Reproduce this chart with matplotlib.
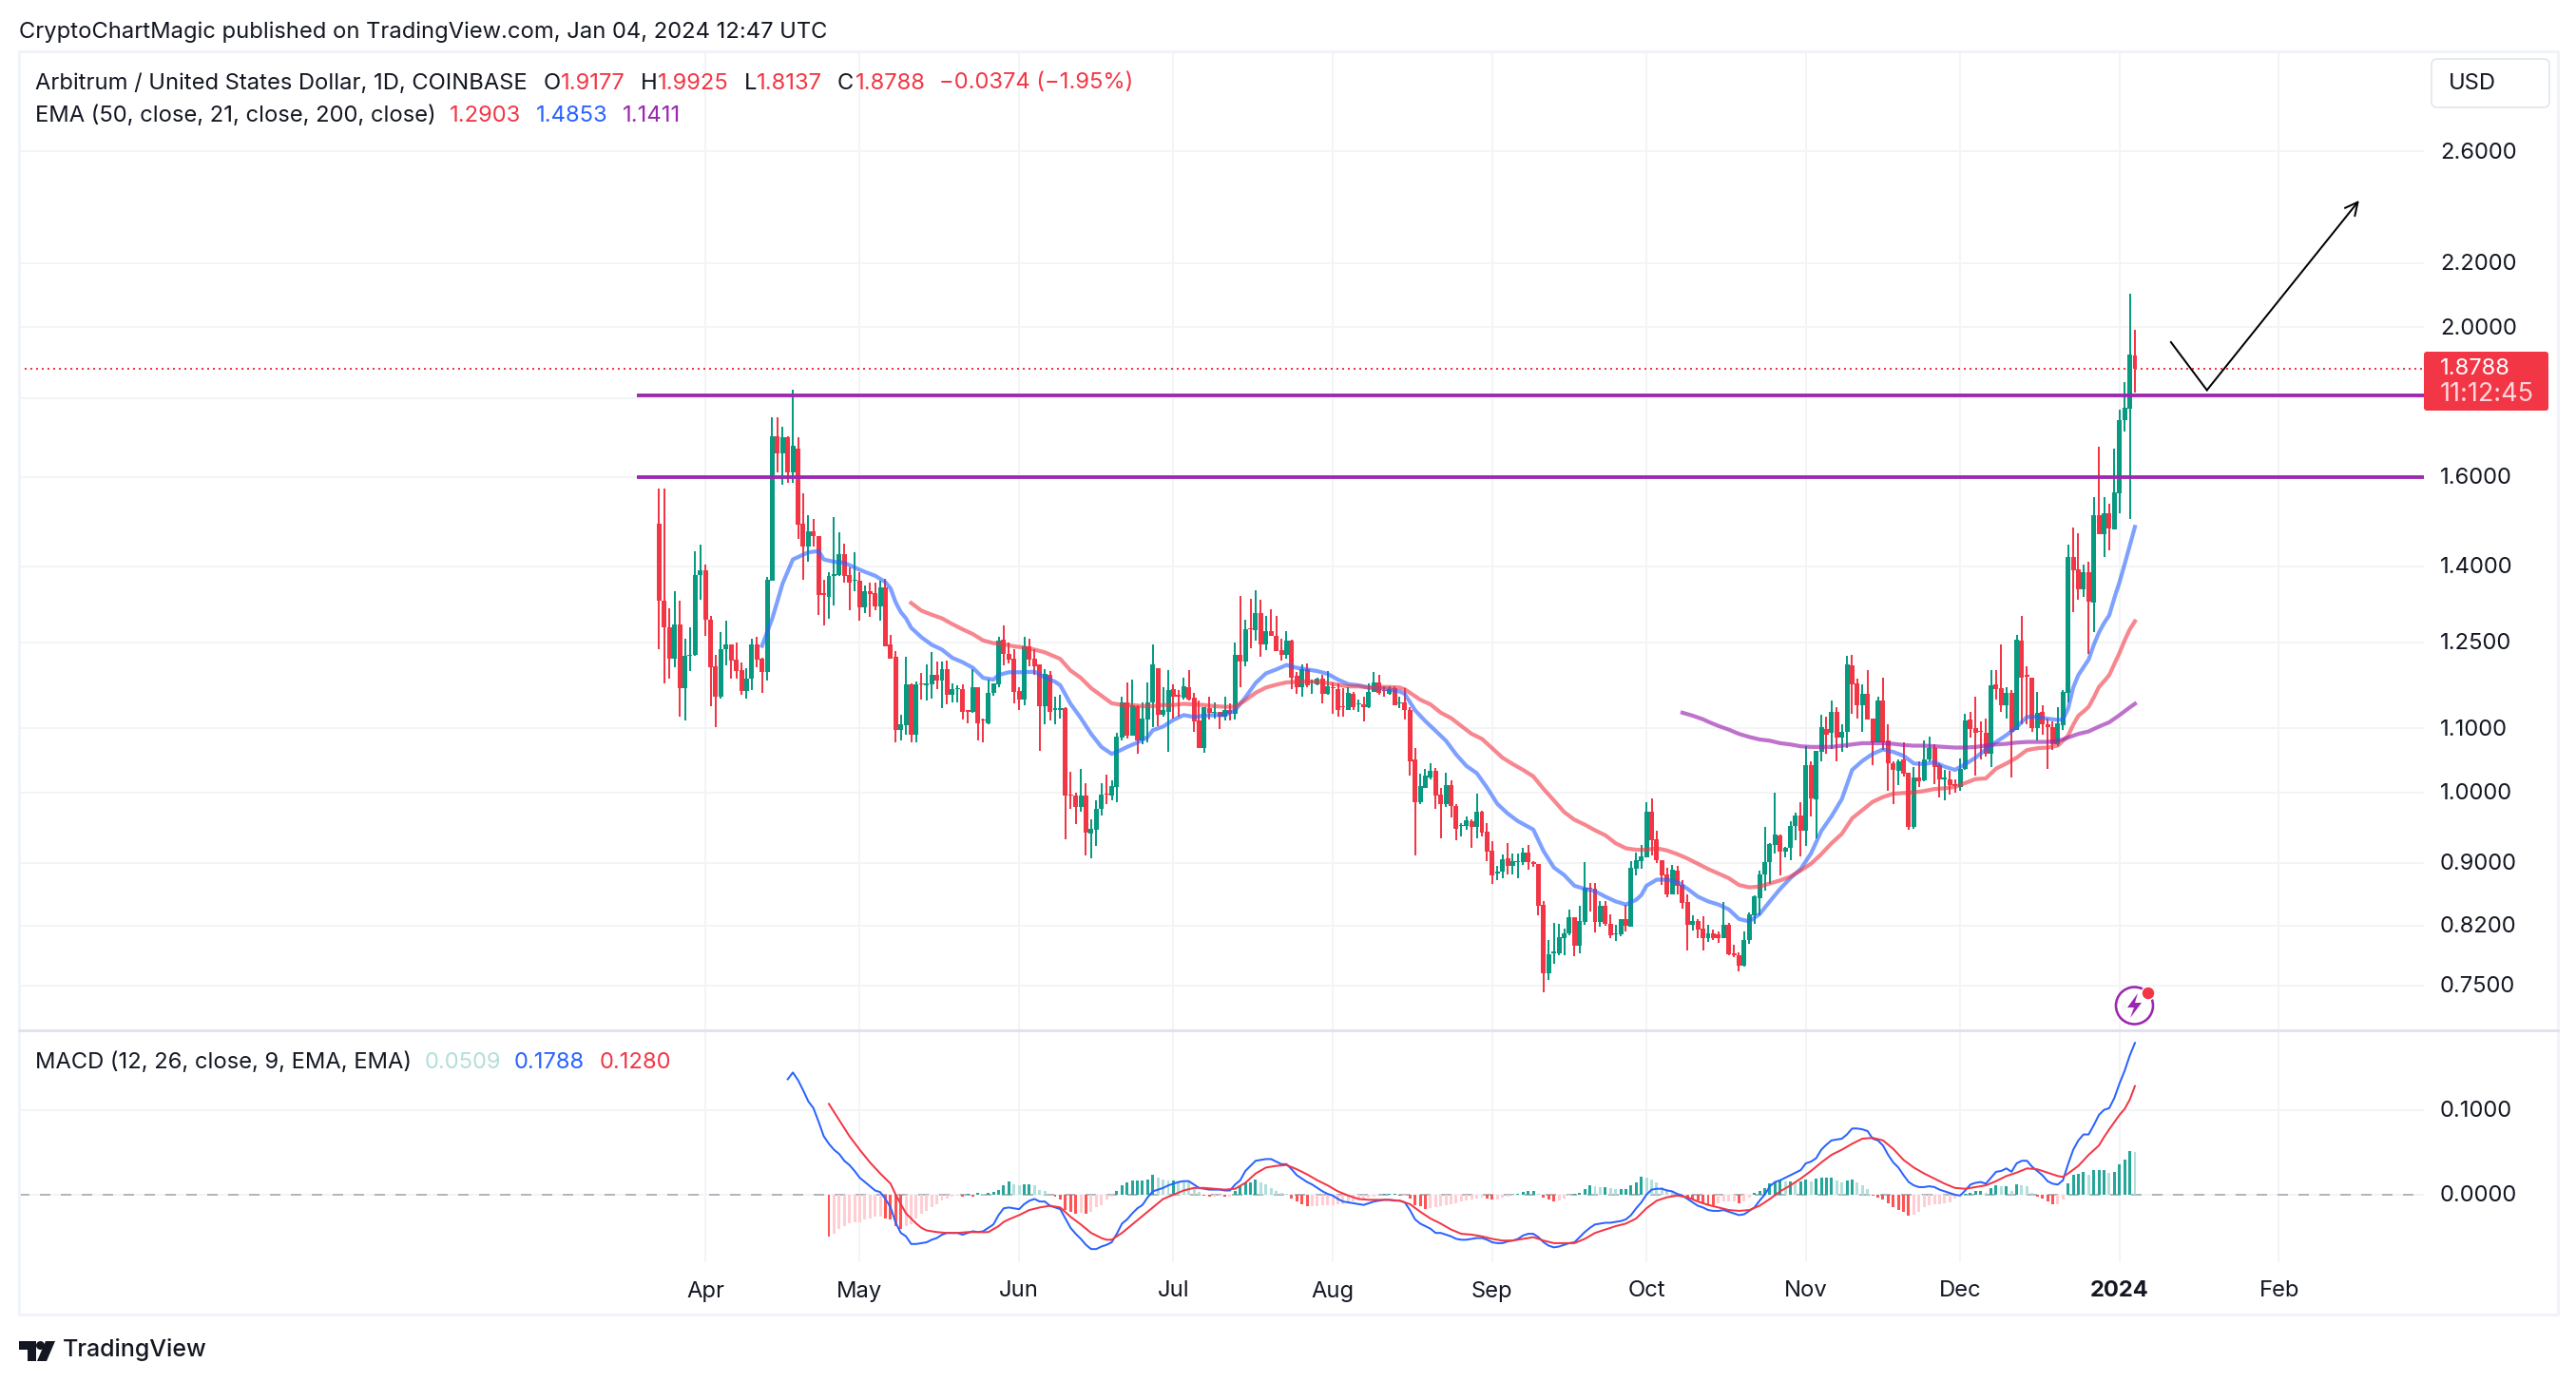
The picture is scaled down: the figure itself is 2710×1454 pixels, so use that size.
'''
ARB/USD 日线图 (TradingView)
'''
import numpy as np
from matplotlib import pyplot as plt
from matplotlib.patches import Circle, FancyBboxPatch, Polygon

plt.rcParams['font.family'] = ['Inter', 'DejaVu Sans']

# 第一根K线的日期
start_day = np.datetime64('2023-03-23')

opens = [
    1.492, 1.330, 1.278, 1.221, 1.285, 1.168, 1.225, 1.228, 1.383, 1.393,
    1.294, 1.206, 1.153, 1.237, 1.246, 1.218, 1.199, 1.163, 1.184, 1.247,
    1.221, 1.197, 1.371, 1.700, 1.657, 1.698, 1.611, 1.668, 1.492, 1.442,
    1.475, 1.465, 1.345, 1.338, 1.381, 1.383, 1.426, 1.383, 1.370, 1.370,
    1.318, 1.350, 1.345, 1.320, 1.358, 1.246, 1.224, 1.097, 1.105, 1.174,
    1.090, 1.176, 1.173, 1.174, 1.191, 1.181, 1.201, 1.157, 1.166, 1.166,
    1.130, 1.127, 1.169, 1.115, 1.108, 1.159, 1.174, 1.255, 1.229, 1.220,
    1.163, 1.148, 1.243, 1.220, 1.210, 1.137, 1.191, 1.131, 1.131, 1.133,
    0.996, 0.995, 0.979, 0.995, 0.941, 0.946, 0.975, 0.998, 0.995, 1.008,
    1.085, 1.143, 1.088, 1.137, 1.081, 1.114, 1.143, 1.204, 1.122, 1.128,
    1.166, 1.156, 1.151, 1.169, 1.151, 1.113, 1.069, 1.134, 1.125, 1.127,
    1.120, 1.130, 1.124, 1.227, 1.215, 1.277, 1.273, 1.307, 1.246, 1.271,
    1.262, 1.236, 1.227, 1.253, 1.190, 1.169, 1.201, 1.178, 1.174, 1.185,
    1.158, 1.169, 1.166, 1.136, 1.130, 1.158, 1.140, 1.140, 1.135, 1.161,
    1.178, 1.164, 1.158, 1.168, 1.142, 1.143, 1.130, 1.050, 0.985, 1.006,
    1.023, 1.032, 0.996, 0.982, 1.011, 0.980, 0.951, 0.951, 0.958, 0.950,
    0.972, 0.943, 0.917, 0.886, 0.888, 0.906, 0.896, 0.901, 0.901, 0.914,
    0.901, 0.899, 0.846, 0.764, 0.787, 0.787, 0.805, 0.811, 0.830, 0.796,
    0.824, 0.868, 0.866, 0.824, 0.845, 0.822, 0.809, 0.809, 0.828, 0.819,
    0.893, 0.903, 0.908, 0.972, 0.933, 0.904, 0.885, 0.859, 0.890, 0.871,
    0.849, 0.821, 0.825, 0.816, 0.805, 0.810, 0.809, 0.805, 0.821, 0.787,
    0.784, 0.772, 0.803, 0.833, 0.854, 0.885, 0.901, 0.924, 0.938, 0.916,
    0.920, 0.951, 0.966, 0.945, 1.042, 0.989, 1.062, 1.099, 1.092, 1.127,
    1.085, 1.094, 1.208, 1.176, 1.139, 1.158, 1.116, 1.077, 1.146, 1.080,
    1.045, 1.032, 1.050, 1.029, 0.950, 1.022, 1.018, 1.050, 1.068, 1.041,
    1.019, 1.019, 1.012, 1.008, 1.035, 1.114, 1.100, 1.095, 1.092, 1.059,
    1.174, 1.168, 1.139, 1.159, 1.097, 1.253, 1.191, 1.186, 1.101, 1.127,
    1.106, 1.102, 1.074, 1.105, 1.159, 1.421, 1.395, 1.353, 1.389, 1.326,
    1.511, 1.469, 1.516, 1.480, 1.562, 1.741, 1.771, 1.9177,
]
highs = [
    1.573, 1.573, 1.316, 1.349, 1.330, 1.257, 1.278, 1.432, 1.446, 1.405,
    1.301, 1.228, 1.269, 1.292, 1.246, 1.250, 1.213, 1.203, 1.257, 1.260,
    1.222, 1.379, 1.748, 1.748, 1.725, 1.701, 1.821, 1.698, 1.562, 1.511,
    1.503, 1.465, 1.372, 1.389, 1.507, 1.473, 1.448, 1.398, 1.430, 1.389,
    1.362, 1.366, 1.366, 1.370, 1.374, 1.264, 1.234, 1.122, 1.224, 1.176,
    1.180, 1.195, 1.210, 1.232, 1.215, 1.215, 1.217, 1.176, 1.173, 1.174,
    1.131, 1.201, 1.169, 1.116, 1.183, 1.177, 1.260, 1.283, 1.251, 1.237,
    1.169, 1.260, 1.258, 1.238, 1.210, 1.201, 1.198, 1.153, 1.156, 1.135,
    1.031, 1.000, 1.035, 1.013, 0.961, 0.988, 1.013, 1.026, 1.018, 1.092,
    1.153, 1.178, 1.183, 1.139, 1.143, 1.178, 1.246, 1.204, 1.169, 1.199,
    1.174, 1.164, 1.186, 1.199, 1.159, 1.146, 1.136, 1.153, 1.144, 1.127,
    1.153, 1.141, 1.250, 1.340, 1.294, 1.334, 1.352, 1.333, 1.301, 1.314,
    1.300, 1.258, 1.271, 1.255, 1.196, 1.210, 1.212, 1.183, 1.186, 1.191,
    1.198, 1.178, 1.176, 1.168, 1.169, 1.161, 1.148, 1.154, 1.176, 1.196,
    1.191, 1.171, 1.171, 1.171, 1.154, 1.168, 1.135, 1.069, 1.028, 1.035,
    1.044, 1.037, 1.006, 1.029, 1.018, 0.982, 0.955, 0.965, 0.961, 0.998,
    0.973, 0.955, 0.930, 0.896, 0.912, 0.927, 0.913, 0.913, 0.921, 0.925,
    0.903, 0.899, 0.850, 0.802, 0.823, 0.822, 0.816, 0.840, 0.830, 0.845,
    0.901, 0.874, 0.874, 0.850, 0.851, 0.834, 0.821, 0.828, 0.846, 0.903,
    0.914, 0.925, 0.986, 0.991, 0.945, 0.904, 0.894, 0.898, 0.896, 0.877,
    0.859, 0.832, 0.828, 0.831, 0.821, 0.815, 0.813, 0.849, 0.823, 0.797,
    0.788, 0.813, 0.836, 0.858, 0.890, 0.950, 0.927, 0.999, 0.939, 0.922,
    0.958, 0.970, 0.985, 1.072, 1.047, 1.063, 1.122, 1.119, 1.146, 1.136,
    1.106, 1.225, 1.227, 1.185, 1.174, 1.199, 1.117, 1.154, 1.186, 1.106,
    1.048, 1.051, 1.077, 1.029, 1.038, 1.048, 1.081, 1.086, 1.075, 1.045,
    1.034, 1.032, 1.019, 1.052, 1.124, 1.127, 1.153, 1.111, 1.116, 1.199,
    1.199, 1.246, 1.169, 1.164, 1.264, 1.301, 1.206, 1.186, 1.161, 1.138,
    1.117, 1.111, 1.135, 1.164, 1.446, 1.484, 1.472, 1.405, 1.411, 1.552,
    1.673, 1.553, 1.537, 1.668, 1.769, 1.843, 2.103, 1.9925,
]
lows = [
    1.237, 1.176, 1.185, 1.205, 1.119, 1.113, 1.198, 1.225, 1.332, 1.262,
    1.137, 1.102, 1.150, 1.208, 1.185, 1.185, 1.156, 1.150, 1.164, 1.205,
    1.160, 1.181, 1.371, 1.610, 1.582, 1.586, 1.586, 1.459, 1.372, 1.410,
    1.442, 1.302, 1.282, 1.296, 1.322, 1.381, 1.366, 1.311, 1.349, 1.291,
    1.307, 1.298, 1.311, 1.292, 1.243, 1.221, 1.078, 1.080, 1.090, 1.078,
    1.078, 1.149, 1.147, 1.150, 1.166, 1.133, 1.140, 1.144, 1.144, 1.115,
    1.109, 1.125, 1.081, 1.078, 1.107, 1.155, 1.169, 1.208, 1.212, 1.141,
    1.130, 1.138, 1.206, 1.191, 1.063, 1.107, 1.113, 1.107, 1.117, 0.933,
    0.976, 0.954, 0.971, 0.910, 0.906, 0.923, 0.966, 0.982, 0.988, 0.985,
    1.080, 1.083, 1.088, 1.059, 1.075, 1.078, 1.102, 1.104, 1.120, 1.062,
    1.117, 1.119, 1.149, 1.146, 1.095, 1.069, 1.060, 1.114, 1.116, 1.099,
    1.113, 1.113, 1.114, 1.169, 1.206, 1.239, 1.253, 1.224, 1.236, 1.262,
    1.234, 1.217, 1.221, 1.166, 1.158, 1.153, 1.169, 1.158, 1.173, 1.141,
    1.156, 1.124, 1.120, 1.120, 1.130, 1.130, 1.128, 1.111, 1.133, 1.161,
    1.156, 1.153, 1.156, 1.139, 1.133, 1.114, 1.025, 0.910, 0.982, 1.006,
    1.019, 0.975, 0.934, 0.978, 0.963, 0.931, 0.937, 0.946, 0.921, 0.934,
    0.937, 0.903, 0.872, 0.877, 0.880, 0.885, 0.885, 0.880, 0.898, 0.891,
    0.895, 0.832, 0.742, 0.756, 0.775, 0.784, 0.785, 0.808, 0.783, 0.787,
    0.821, 0.837, 0.812, 0.819, 0.820, 0.805, 0.801, 0.807, 0.813, 0.819,
    0.883, 0.893, 0.908, 0.910, 0.900, 0.871, 0.855, 0.859, 0.859, 0.841,
    0.790, 0.814, 0.805, 0.790, 0.800, 0.803, 0.799, 0.805, 0.785, 0.782,
    0.766, 0.771, 0.798, 0.822, 0.832, 0.864, 0.872, 0.913, 0.883, 0.908,
    0.904, 0.931, 0.909, 0.923, 0.965, 0.934, 1.048, 1.059, 1.066, 1.047,
    1.062, 1.068, 1.124, 1.117, 1.095, 1.114, 1.042, 1.077, 1.065, 1.002,
    0.983, 1.011, 1.024, 0.946, 0.947, 1.008, 1.016, 1.048, 1.012, 0.993,
    0.988, 0.996, 0.999, 1.002, 1.034, 1.085, 1.025, 1.050, 1.054, 1.038,
    1.149, 1.127, 1.116, 1.022, 1.097, 1.107, 1.106, 1.094, 1.081, 1.090,
    1.035, 1.065, 1.071, 1.097, 1.144, 1.309, 1.333, 1.339, 1.229, 1.269,
    1.469, 1.420, 1.434, 1.480, 1.515, 1.711, 1.503, 1.8137,
]
closes = [
    1.330, 1.278, 1.221, 1.285, 1.168, 1.225, 1.228, 1.383, 1.393, 1.294,
    1.205, 1.153, 1.237, 1.246, 1.217, 1.198, 1.163, 1.184, 1.246, 1.218,
    1.197, 1.372, 1.700, 1.657, 1.698, 1.611, 1.675, 1.490, 1.442, 1.475,
    1.465, 1.342, 1.342, 1.381, 1.385, 1.426, 1.381, 1.366, 1.372, 1.318,
    1.350, 1.343, 1.320, 1.358, 1.243, 1.221, 1.097, 1.106, 1.174, 1.090,
    1.174, 1.174, 1.176, 1.191, 1.181, 1.201, 1.157, 1.166, 1.168, 1.128,
    1.128, 1.169, 1.109, 1.113, 1.159, 1.176, 1.253, 1.229, 1.218, 1.161,
    1.148, 1.243, 1.218, 1.206, 1.137, 1.193, 1.127, 1.133, 1.133, 0.995,
    0.995, 0.979, 0.995, 0.942, 0.947, 0.976, 0.996, 0.996, 1.009, 1.086,
    1.143, 1.088, 1.138, 1.081, 1.116, 1.143, 1.210, 1.122, 1.131, 1.164,
    1.153, 1.153, 1.171, 1.149, 1.111, 1.069, 1.135, 1.125, 1.128, 1.120,
    1.130, 1.124, 1.227, 1.215, 1.275, 1.275, 1.307, 1.246, 1.271, 1.262,
    1.234, 1.227, 1.253, 1.186, 1.169, 1.201, 1.173, 1.179, 1.185, 1.158,
    1.171, 1.168, 1.131, 1.135, 1.159, 1.135, 1.141, 1.136, 1.161, 1.178,
    1.159, 1.163, 1.166, 1.139, 1.144, 1.130, 1.048, 0.985, 1.009, 1.025,
    1.032, 0.995, 0.982, 1.011, 0.980, 0.947, 0.952, 0.959, 0.950, 0.972,
    0.942, 0.916, 0.884, 0.888, 0.905, 0.896, 0.903, 0.903, 0.914, 0.901,
    0.899, 0.844, 0.764, 0.786, 0.788, 0.806, 0.811, 0.830, 0.796, 0.825,
    0.867, 0.866, 0.824, 0.845, 0.822, 0.808, 0.811, 0.828, 0.820, 0.894,
    0.904, 0.909, 0.972, 0.931, 0.904, 0.884, 0.859, 0.891, 0.870, 0.848,
    0.821, 0.825, 0.815, 0.805, 0.811, 0.805, 0.805, 0.821, 0.786, 0.785,
    0.772, 0.802, 0.834, 0.856, 0.885, 0.901, 0.926, 0.939, 0.916, 0.920,
    0.951, 0.966, 0.945, 1.041, 0.991, 1.063, 1.102, 1.090, 1.127, 1.085,
    1.095, 1.210, 1.174, 1.139, 1.158, 1.114, 1.078, 1.146, 1.078, 1.044,
    1.034, 1.048, 1.028, 0.950, 1.022, 1.017, 1.051, 1.069, 1.039, 1.019,
    1.022, 1.011, 1.010, 1.036, 1.113, 1.099, 1.093, 1.094, 1.059, 1.173,
    1.166, 1.139, 1.159, 1.095, 1.255, 1.186, 1.188, 1.101, 1.125, 1.106,
    1.102, 1.074, 1.109, 1.161, 1.421, 1.393, 1.353, 1.389, 1.328, 1.511,
    1.469, 1.516, 1.482, 1.563, 1.741, 1.774, 1.921, 1.8788,
]

# EMA 线读数 (第几天, 价格)
ema21_days = [
    20, 22, 24, 26, 29, 31, 32, 34, 36, 38, 40, 42, 44, 45, 46, 47, 48, 49, 51, 53,
    55, 57, 59, 61, 63, 65, 66, 68, 71, 73, 75, 77, 78, 80, 82, 84, 86, 88, 89, 91,
    93, 95, 96, 98, 100, 102, 104, 106, 108, 110, 112, 114, 116, 118, 120, 122, 124,
    126, 128, 130, 132, 134, 136, 138, 140, 142, 144, 145, 146, 147, 149, 151, 153,
    155, 157, 159, 161, 163, 165, 167, 170, 172, 174, 176, 178, 180, 182, 184, 186,
    188, 190, 191, 192, 194, 196, 198, 200, 202, 204, 206, 208, 210, 212, 214, 216,
    218, 220, 222, 224, 226, 228, 230, 232, 234, 236, 238, 240, 242, 244, 246, 248,
    250, 252, 254, 256, 258, 260, 262, 264, 266, 268, 270, 272, 273, 274, 275, 276,
    277, 278, 279, 280, 281, 282, 283, 284, 285, 286, 287,
]
ema21_vals = [
    1.244, 1.296, 1.365, 1.415, 1.430, 1.433, 1.415, 1.410, 1.408, 1.398, 1.389, 1.381,
    1.368, 1.355, 1.327, 1.308, 1.296, 1.278, 1.260, 1.246, 1.237, 1.222, 1.214, 1.204,
    1.186, 1.183, 1.191, 1.196, 1.196, 1.197, 1.187, 1.179, 1.173, 1.141, 1.117, 1.091,
    1.070, 1.059, 1.062, 1.070, 1.077, 1.086, 1.097, 1.103, 1.114, 1.122, 1.119, 1.121,
    1.122, 1.122, 1.130, 1.152, 1.177, 1.194, 1.201, 1.209, 1.204, 1.201, 1.198, 1.193,
    1.183, 1.175, 1.173, 1.169, 1.168, 1.166, 1.162, 1.158, 1.144, 1.130, 1.112, 1.096,
    1.080, 1.058, 1.040, 1.029, 1.007, 0.983, 0.969, 0.958, 0.946, 0.916, 0.894, 0.884,
    0.870, 0.866, 0.863, 0.856, 0.850, 0.846, 0.852, 0.858, 0.870, 0.878, 0.878, 0.875,
    0.866, 0.856, 0.850, 0.846, 0.840, 0.828, 0.825, 0.834, 0.850, 0.866, 0.880, 0.892,
    0.913, 0.944, 0.965, 0.990, 1.034, 1.048, 1.059, 1.066, 1.062, 1.056, 1.044, 1.043,
    1.046, 1.039, 1.034, 1.043, 1.053, 1.066, 1.078, 1.089, 1.102, 1.119, 1.119, 1.116,
    1.114, 1.115, 1.133, 1.169, 1.191, 1.205, 1.219, 1.246, 1.269, 1.287, 1.302, 1.336,
    1.368, 1.405, 1.445, 1.4853,
]
ema50_days = [
    49, 51, 53, 55, 57, 59, 61, 63, 65, 67, 69, 71, 73, 75, 77, 78, 80, 82, 84, 86, 88,
    90, 92, 94, 96, 98, 100, 102, 104, 106, 108, 110, 112, 114, 116, 118, 120, 122, 124,
    126, 128, 130, 132, 134, 136, 138, 140, 142, 144, 145, 146, 148, 150, 152, 154, 156,
    158, 160, 162, 164, 166, 168, 170, 172, 174, 176, 178, 180, 182, 184, 186, 188, 190,
    192, 194, 196, 198, 200, 202, 204, 206, 208, 210, 212, 214, 216, 218, 220, 222, 224,
    226, 228, 230, 232, 234, 236, 238, 240, 242, 244, 246, 248, 250, 252, 254, 256, 258,
    260, 262, 264, 266, 268, 270, 272, 273, 274, 275, 276, 277, 278, 279, 280, 281, 282,
    283, 284, 285, 286, 287,
]
ema50_vals = [
    1.326, 1.311, 1.303, 1.296, 1.285, 1.275, 1.266, 1.254, 1.249, 1.247, 1.243, 1.241,
    1.237, 1.232, 1.224, 1.220, 1.199, 1.186, 1.168, 1.155, 1.142, 1.139, 1.139, 1.137,
    1.137, 1.139, 1.139, 1.141, 1.140, 1.139, 1.137, 1.136, 1.136, 1.147, 1.160, 1.169,
    1.174, 1.178, 1.179, 1.180, 1.179, 1.177, 1.174, 1.171, 1.171, 1.169, 1.170, 1.170,
    1.169, 1.166, 1.160, 1.148, 1.140, 1.126, 1.117, 1.104, 1.091, 1.083, 1.068, 1.053,
    1.043, 1.034, 1.024, 1.005, 0.988, 0.971, 0.960, 0.953, 0.945, 0.938, 0.927, 0.920,
    0.918, 0.918, 0.920, 0.917, 0.912, 0.906, 0.899, 0.892, 0.886, 0.880, 0.871, 0.868,
    0.869, 0.873, 0.877, 0.882, 0.890, 0.899, 0.912, 0.927, 0.940, 0.962, 0.974, 0.986,
    0.993, 0.998, 0.999, 1.000, 1.002, 1.005, 1.006, 1.008, 1.014, 1.020, 1.021, 1.036,
    1.044, 1.053, 1.065, 1.068, 1.069, 1.072, 1.080, 1.088, 1.106, 1.121, 1.128, 1.136,
    1.152, 1.170, 1.180, 1.191, 1.211, 1.231, 1.254, 1.275, 1.2903,
]
ema200_days = [
    199, 201, 203, 204, 206, 208, 210, 212, 214, 216, 218, 220, 222, 224, 226, 228, 230,
    232, 234, 236, 238, 240, 242, 244, 246, 248, 250, 252, 254, 256, 258, 260, 262, 264,
    266, 268, 270, 272, 273, 274, 276, 278, 280, 282, 284, 286, 287,
]
ema200_vals = [
    1.126, 1.121, 1.115, 1.111, 1.104, 1.098, 1.091, 1.086, 1.082, 1.080, 1.076, 1.074,
    1.071, 1.070, 1.070, 1.070, 1.072, 1.074, 1.076, 1.076, 1.076, 1.075, 1.073, 1.072,
    1.072, 1.071, 1.070, 1.069, 1.069, 1.070, 1.072, 1.074, 1.075, 1.077, 1.078, 1.078,
    1.078, 1.080, 1.082, 1.085, 1.091, 1.095, 1.103, 1.110, 1.122, 1.135, 1.1411,
]

# 水平支撑线和手绘箭头
levels = [1.807, 1.6]
level_start_day = -4.3
arrow_days = [294, 301, 330.6]
arrow_prices = [1.956, 1.821, 2.416]
last_price = 1.8788

# MACD 从第 25 天开始, 柱状图和信号线从第 33 天开始
macd_first = 25
macd_vals = [
    .136, .144, .135, .123, .110,
    .102, .086, .069, .060, .053, .048, .040, .035, .028, .020,
    .015, .010, .005, .003, -.005, -.015, -.033, -.045, -.049, -.058,
    -.058, -.057, -.056, -.053, -.051, -.047, -.045, -.045, -.045, -.047,
    -.045, -.043, -.044, -.043, -.039, -.035, -.024, -.016, -.015, -.016,
    -.017, -.011, -.007, -.005, -.008, -.008, -.013, -.015, -.017, -.028,
    -.039, -.046, -.052, -.059, -.064, -.064, -.061, -.059, -.056, -.046,
    -.034, -.029, -.022, -.016, -.012, -.003, .004, .006, .008, .011,
    .013, .015, .016, .016, .012, .008, .007, .006, .006, .006,
    .005, .005, .012, .017, .028, .034, .040, .041, .042, .042,
    .039, .036, .036, .030, .023, .019, .015, .012, .008, .004,
    .001, -.001, -.005, -.008, -.009, -.010, -.011, -.012, -.010, -.008,
    -.007, -.006, -.006, -.007, -.007, -.009, -.018, -.029, -.034, -.037,
    -.040, -.045, -.045, -.047, -.049, -.052, -.053, -.053, -.052, -.051,
    -.051, -.053, -.056, -.057, -.057, -.055, -.054, -.052, -.048, -.046,
    -.046, -.050, -.056, -.060, -.062, -.061, -.059, -.057, -.056, -.050,
    -.044, -.039, -.035, -.034, -.033, -.033, -.032, -.031, -.029, -.024,
    -.016, -.009, .000, .006, .007, .007, .005, .004, .001, -.001,
    -.005, -.009, -.013, -.015, -.018, -.019, -.019, -.018, -.020, -.022,
    -.024, -.023, -.019, -.015, -.007, .000, .010, .015, .017, .020,
    .023, .026, .029, .037, .039, .043, .053, .059, .064, .065,
    .066, .071, .078, .078, .077, .075, .066, .064, .058, .047,
    .038, .032, .023, .015, .011, .009, .009, .010, .009, .006,
    .004, .002, .000, -.001, .005, .012, .014, .015, .013, .020,
    .027, .028, .031, .027, .037, .040, .040, .033, .028, .023,
    .016, .013, .012, .017, .036, .053, .064, .071, .071, .082,
    .094, .100, .102, .114, .131, .146, .164, .1788,
]
signal_days = [
    33, 35, 37, 39, 41, 43, 45, 46, 47, 48, 49, 50, 51, 52, 54, 56, 58, 60, 62, 64, 66,
    67, 68, 70, 72, 74, 76, 78, 80, 82, 84, 86, 87, 88, 90, 92, 94, 96, 98, 100, 102,
    104, 106, 108, 110, 112, 114, 116, 118, 120, 122, 124, 126, 128, 130, 132, 134, 136,
    138, 140, 142, 144, 146, 148, 150, 152, 154, 156, 158, 160, 162, 164, 166, 168, 170,
    172, 174, 176, 178, 180, 182, 184, 186, 188, 190, 192, 194, 196, 198, 200, 202, 204,
    206, 208, 210, 212, 214, 216, 218, 220, 222, 224, 226, 228, 230, 232, 234, 236, 238,
    240, 242, 244, 246, 248, 250, 252, 254, 256, 258, 260, 262, 264, 266, 268, 270, 272,
    273, 274, 276, 278, 280, 281, 282, 284, 285, 286, 287,
]
signal_vals = [
    .107, .088, .069, .053, .038, .025, .013, .000, -.011, -.022, -.028, -.034, -.039,
    -.042, -.044, -.045, -.045, -.044, -.044, -.044, -.037, -.032, -.029, -.024, -.018,
    -.015, -.013, -.015, -.026, -.035, -.045, -.051, -.053, -.053, -.045, -.035, -.025,
    -.015, -.005, .000, .005, .008, .008, .007, .006, .007, .014, .025, .032, .034, .035,
    .030, .024, .017, .011, .004, -.001, -.005, -.006, -.006, -.006, -.007, -.011, -.020,
    -.028, -.034, -.041, -.046, -.047, -.049, -.052, -.054, -.054, -.052, -.050, -.054,
    -.057, -.057, -.057, -.052, -.045, -.041, -.037, -.034, -.028, -.016, -.007, -.003,
    -.001, -.003, -.008, -.012, -.015, -.018, -.019, -.018, -.013, -.005, .004, .011,
    .019, .028, .038, .047, .053, .060, .066, .067, .064, .054, .041, .032, .025, .019,
    .013, .008, .007, .009, .011, .016, .022, .026, .031, .030, .026, .022, .021, .025,
    .034, .047, .058, .068, .077, .094, .101, .112, .1280,
]
hist_first = 33
hist_vals = [
    -.049, -.046, -.040, -.037, -.034, -.033, -.033,
    -.029, -.028, -.026, -.026, -.028, -.029, -.037, -.040, -.037, -.035,
    -.028, -.022, -.019, -.015, -.011, -.007, -.004, -.002, -.001, -.002,
    .001, -.002, .002, .001, .002, .003, .006, .011, .016, .012,
    .011, .012, .012, .011, .006, .005, .000, -.002, -.006, -.018,
    -.020, -.022, -.021, -.022, -.020, -.015, -.012, -.006, -.002, .004,
    .011, .015, .017, .017, .017, .018, .023, .020, .018, .017,
    .017, .016, .015, .014, .008, .003, -.001, -.002, -.002, -.001,
    -.002, -.002, .004, .010, .014, .015, .018, .014, .012, .008,
    .005, .002, .001, -.005, -.008, -.011, -.013, -.013, -.013, -.012,
    -.012, -.012, -.011, -.011, -.009, -.008, -.006, -.005, -.003, -.002,
    .000, .001, .001, .001, -.001, -.001, -.005, -.012, -.014, -.017,
    -.016, -.015, -.014, -.012, -.011, -.010, -.008, -.007, -.006, -.005,
    -.003, -.005, -.006, -.006, -.003, -.002, -.001, .001, .003, .005,
    .005, .001, -.003, -.006, -.008, -.007, -.004, -.001, .001, .002,
    .007, .011, .010, .009, .009, .008, .007, .007, .007, .011,
    .015, .021, .020, .018, .014, .009, .007, .004, .001, -.001,
    -.003, -.005, -.007, -.010, -.011, -.012, -.010, -.008, -.008, -.008,
    -.010, -.008, -.003, .002, .004, .008, .013, .015, .017, .016,
    .016, .014, .016, .018, .016, .019, .020, .020, .020, .017,
    .014, .017, .018, .015, .011, .007, -.001, -.003, -.006, -.010,
    -.015, -.018, -.020, -.025, -.024, -.020, -.015, -.012, -.011, -.011,
    -.010, -.009, -.004, -.001, .001, .002, .004, .005, .002, .008,
    .011, .010, .010, .005, .012, .011, .010, .002, -.002, -.005,
    -.008, -.011, -.011, -.006, .013, .023, .025, .027, .023, .029,
    .029, .029, .026, .027, .036, .041, .0515, .0509,
]

# 坐标轴刻度
price_ticks = [2.6, 2.2, 2.0, 1.8, 1.6, 1.4, 1.25, 1.1, 1.0, 0.9, 0.82, 0.75]
price_labels = ['2.6000', '2.2000', '2.0000', None, '1.6000', '1.4000', '1.2500', '1.1000',
                '1.0000', '0.9000', '0.8200', '0.7500']
macd_ticks = [0.1, 0.0]
month_dates = ['2023-04-01', '2023-05-01', '2023-06-01', '2023-07-01', '2023-08-01', '2023-09-01',
               '2023-10-01', '2023-11-01', '2023-12-01', '2024-01-01', '2024-02-01']
month_labels = ['Apr', 'May', 'Jun', 'Jul', 'Aug', 'Sep', 'Oct', 'Nov', 'Dec', '2024', 'Feb']

RED = '#f23645'
GREEN = '#089981'
BLUE = '#2962ff'
PURPLE = '#9c27b0'
GRID = '#f3f4f6'
DARK = '#131722'
W, H = 2710, 1454
PX = 0.72  # 100 dpi 下 1 像素对应的磅数

fig = plt.figure(figsize=(W / 100, H / 100), dpi=100, facecolor='white')


def make_axes(left, top, right, bottom):
    ax = fig.add_axes([left / W, 1 - bottom / H, (right - left) / W, (bottom - top) / H])
    ax.set_facecolor('none')
    ax.set_xticks([])
    ax.set_yticks([])
    for s in ax.spines.values():
        s.set_visible(False)
    return ax


days = np.arange(len(closes))
month_days = [(np.datetime64(d) - start_day).astype(int) for d in month_dates]
x_left, x_right = -124.5, 343.2

# 竖直网格线穿过两个面板和分隔线
bg = make_axes(20, 55, 2550, 1328)
bg.set_xlim(x_left, x_right)
bg.set_ylim(0, 1)
bg.vlines(month_days, 0, 1, color=GRID, lw=2 * PX, zorder=1)

# 价格面板
ax = make_axes(20, 55, 2550, 1084)
ax.set_yscale('log')
ax.set_xlim(x_left, x_right)
ax.set_ylim(0.7014, 3.013)
ax.minorticks_off()
ax.set_yticks([])
ax.hlines(price_ticks, x_left, x_right, color=GRID, lw=2 * PX, zorder=1)

o = np.array(opens)
c = np.array(closes)
candle_colors = np.where(c >= o, GREEN, RED)
ax.vlines(days, lows, highs, color=candle_colors, lw=2 * PX, zorder=3)
ax.bar(days, np.maximum(np.abs(c - o), 0.0015), bottom=np.minimum(o, c), width=0.92,
       color=candle_colors, zorder=3)

ax.plot(ema21_days, ema21_vals, color=BLUE, alpha=0.6, lw=4.2 * PX, zorder=4)
ax.plot(ema50_days, ema50_vals, color=RED, alpha=0.6, lw=4.2 * PX, zorder=4)
ax.plot(ema200_days, ema200_vals, color=PURPLE, alpha=0.65, lw=4.2 * PX, zorder=4)

ax.hlines(levels, level_start_day, x_right, color=PURPLE, lw=3.8 * PX, zorder=5)
ax.plot([x_left, x_right], [last_price, last_price], color=RED, lw=2 * PX,
        linestyle=(0, (1, 2)), zorder=2)
ax.plot(arrow_days[:2], arrow_prices[:2], color='black', lw=2 * PX, zorder=6)
ax.annotate('', xy=(arrow_days[2], arrow_prices[2]), xytext=(arrow_days[1], arrow_prices[1]),
            arrowprops=dict(arrowstyle='->', color='black', lw=2 * PX, shrinkA=0, shrinkB=0,
                            mutation_scale=24), zorder=6)

# MACD 面板
ax2 = make_axes(20, 1085, 2550, 1328)
ax2.set_xlim(x_left, x_right)
ax2.set_ylim(-0.0795, 0.1925)
ax2.hlines(macd_ticks, x_left, x_right, color=GRID, lw=2 * PX, zorder=1)
ax2.plot([x_left, x_right], [0, 0], color='#b2b5be', lw=2 * PX, linestyle=(0, (5.5, 5.5)), zorder=2)

hist = np.array(hist_vals)
prev = np.concatenate([[hist[0]], hist[:-1]])
hist_colors = []
for cur, before in zip(hist, prev):
    if cur >= 0:
        hist_colors.append('#26a69a' if cur >= before else '#b2dfdb')
    else:
        hist_colors.append('#ff5252' if cur < before else '#ffcdd2')
hist_colors[0] = '#ff5252'
ax2.bar(hist_first + np.arange(len(hist)), hist, width=0.55, color=hist_colors, zorder=3)
ax2.plot(macd_first + np.arange(len(macd_vals)), macd_vals, color=BLUE, lw=2 * PX, zorder=4)
ax2.plot(signal_days, signal_vals, color=RED, lw=2 * PX, zorder=4)

# 外框, 文字和图标 (整张图的像素坐标)
top = make_axes(0, 0, W, H)
top.set_xlim(0, W)
top.set_ylim(H, 0)
FRAME = '#f0f3fa'
top.plot([20, 2691, 2691, 20, 20], [54, 54, 1383, 1383, 54], color=FRAME, lw=3 * PX, zorder=1)
top.plot([20, 2691], [1084, 1084], color='#e0e3eb', lw=3 * PX, zorder=1)

FS = 17.1


def label(x, y, s, color=DARK, size=FS, **kw):
    kw.setdefault('ha', 'left')
    top.text(x, y + 1.5, s, color=color, fontsize=size, va='center', **kw)


label(20, 32, 'CryptoChartMagic published on TradingView.com, Jan 04, 2024 12:47 UTC')
label(37, 86, 'Arbitrum / United States Dollar, 1D, COINBASE')
for x, s, col in [(572, 'O', DARK), (590, '1.9177', RED), (674, 'H', DARK), (692, '1.9925', RED),
                  (783, 'L', DARK), (796, '1.8137', RED), (881, 'C', DARK), (900, '1.8788', RED),
                  (988, '\u22120.0374 (\u22121.95%)', RED)]:
    label(x, 86, s, col)
label(37, 120, 'EMA (50, close, 21, close, 200, close)')
for x, s, col in [(473, '1.2903', RED), (564, '1.4853', BLUE), (655, '1.1411', '#9c27b0')]:
    label(x, 120, s, col)
label(37, 1116, 'MACD (12, 26, close, 9, EMA, EMA)')
for x, s, col in [(447, '0.0509', '#b2dfdb'), (541, '0.1788', BLUE), (631, '0.1280', RED)]:
    label(x, 1116, s, col)

# USD 按钮
top.add_patch(FancyBboxPatch((2558, 62), 124, 51, boxstyle='round,pad=0,rounding_size=6',
                             fc='white', ec='#e0e3eb', lw=1.5 * PX))
label(2576, 86, 'USD')

# 价格轴和时间轴标签
p_to_y = lambda p: 501.7 - np.log(p / 1.6) * 705.6
for p, s in zip(price_ticks, price_labels):
    if s:
        label(2567, p_to_y(p), s)
for v, s in zip(macd_ticks, ['0.1000', '0.0000']):
    label(2567, 1257 - v * 893, s)
for d, s in zip(month_days, month_labels):
    x = 693.5 + 5.41 * d
    label(x, 1357, s, ha='center', fontweight='bold' if s == '2024' else 'normal')

# 最新价标签
top.add_patch(FancyBboxPatch((2550, 370), 131, 62, boxstyle='round,pad=0,rounding_size=3',
                             fc=RED, ec='none', zorder=3))
label(2567, 387, '1.8788', 'white', zorder=4)
label(2567, 414, '11:12:45', '#ffd6da', size=19.5, zorder=4)

# 闪电图标
top.add_patch(Circle((2245.5, 1058), 19.5, fc='white', ec=PURPLE, lw=2.6 * PX, zorder=5))
top.add_patch(Polygon([(2249, 1045), (2238, 1060), (2245, 1060), (2241, 1071), (2253, 1055),
                       (2246, 1055)], fc=PURPLE, ec='none', zorder=6))
top.add_patch(Circle((2260, 1045), 7, fc=RED, ec='white', lw=1.5 * PX, zorder=7))

# TradingView 标志
top.add_patch(Polygon([(20, 1411), (38, 1411), (38, 1432), (29, 1432), (29, 1420), (20, 1420)],
                      fc=DARK, ec='none'))
top.add_patch(Circle((42.5, 1415.5), 4.5, fc=DARK, ec='none'))
top.add_patch(Polygon([(48, 1411), (58, 1411), (49, 1432), (39, 1432)], fc=DARK, ec='none'))
label(66, 1418, 'TradingView', size=18, fontweight='medium')

plt.savefig('out.png', dpi=100)
